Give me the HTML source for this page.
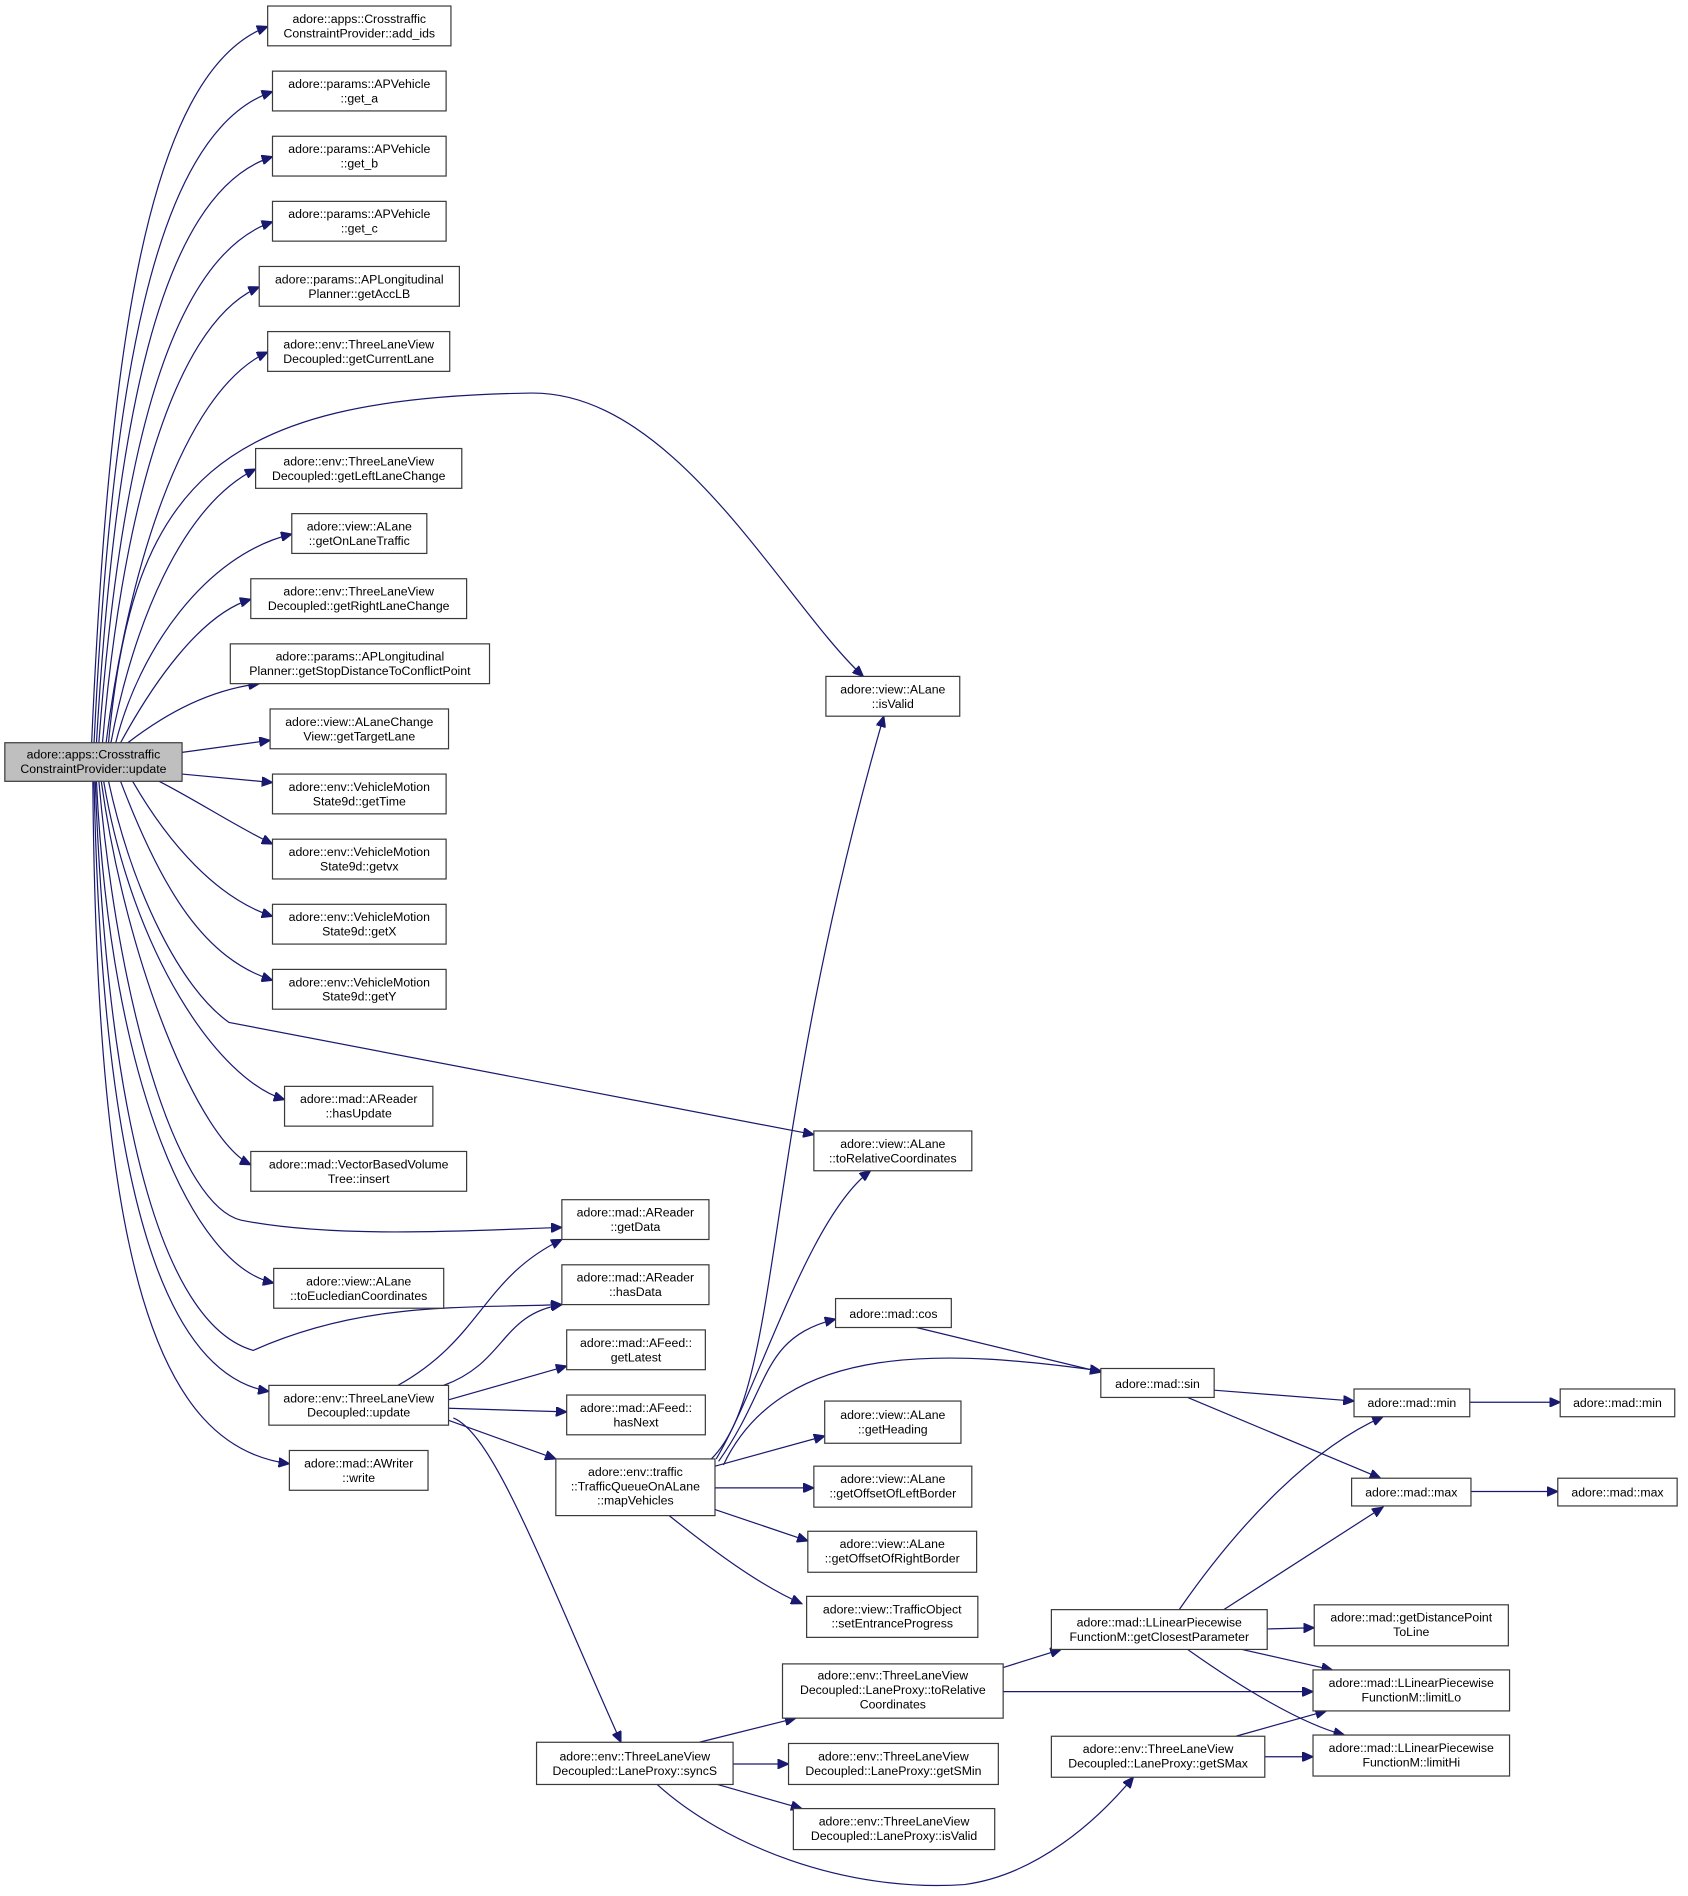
<!DOCTYPE html>
<html><head><meta charset="utf-8"><style>
html,body{margin:0;padding:0;background:#fff}
svg{display:block}
text{font-family:"Liberation Sans",Arial,sans-serif;font-size:10.2px;fill:#000}
.n{fill:#fff;stroke:#3a3a3a;stroke-width:1}
.e{fill:none;stroke:#191970;stroke-width:1}
</style></head><body>
<svg width="1688" height="1896" viewBox="0 0 1400 1572.5" preserveAspectRatio="none" xmlns="http://www.w3.org/2000/svg">
<defs><marker id="a" markerUnits="userSpaceOnUse" markerWidth="10" markerHeight="8" refX="9" refY="4" orient="auto"><path d="M0,0 L9,4 L0,8 Z" fill="#191970" stroke="#191970"/></marker></defs>
<g marker-end="url(#a)" class="e">
<path class="e" d="M76,616 C90,300 120,60 222,22"/>
<path class="e" d="M78,616 C92,330 125,110 226,76"/>
<path class="e" d="M80,616 C95,360 130,160 226,130"/>
<path class="e" d="M82,616 C98,400 135,215 226,184"/>
<path class="e" d="M85,616 C100,440 140,270 215,238"/>
<path class="e" d="M88,616 C105,480 150,325 222,292"/>
<path class="e" d="M90,616 C110,400 180,330 440,326 C560,324 650,500 716,561"/>
<path class="e" d="M92,616 C110,520 150,420 212,389"/>
<path class="e" d="M96,616 C115,540 170,460 242,443"/>
<path class="e" d="M100,616 C125,570 165,510 208,497"/>
<path class="e" d="M106,616 C140,590 175,572 215,567"/>
<path class="e" d="M151,624 L224,614"/>
<path class="e" d="M151,642 L226,649"/>
<path class="e" d="M132,648 C165,665 195,685 226,700"/>
<path class="e" d="M110,648 C140,700 180,745 226,760"/>
<path class="e" d="M100,648 C135,740 170,795 226,813"/>
<path class="e" d="M90,648 C110,740 150,820 190,848 L675,941"/>
<path class="e" d="M86,648 C110,790 180,895 236,912"/>
<path class="e" d="M84,648 C105,800 165,945 208,966"/>
<path class="e" d="M82,648 C100,850 150,1000 200,1012 C280,1028 400,1020 466,1018"/>
<path class="e" d="M80,648 C92,900 160,1050 227,1064"/>
<path class="e" d="M79,648 C90,950 140,1100 210,1120 C300,1080 380,1085 466,1082"/>
<path class="e" d="M78,648 C85,1000 140,1140 223,1154"/>
<path class="e" d="M77,648 C80,1050 130,1200 240,1214"/>
<path class="e" d="M330,1149 C400,1110 400,1060 466,1028"/>
<path class="e" d="M368,1149 C420,1130 415,1090 466,1082"/>
<path class="e" d="M372,1161 L470,1133"/>
<path class="e" d="M372,1168 L470,1171"/>
<path class="e" d="M372,1178 L461,1210"/>
<path class="e" d="M376,1176 C410,1190 450,1300 515,1445"/>
<path class="e" d="M590,1210 C650,1150 630,950 733,594"/>
<path class="e" d="M594,1210 C630,1150 670,1010 722,971"/>
<path class="e" d="M596,1212 C640,1150 630,1110 693,1094"/>
<path class="e" d="M600,1215 C650,1110 790,1120 913,1137"/>
<path class="e" d="M593,1216 L684,1191"/>
<path class="e" d="M593,1234 L675,1234"/>
<path class="e" d="M593,1252 L670,1278"/>
<path class="e" d="M555,1257 C590,1285 630,1315 665,1330"/>
<path class="e" d="M760,1101 L913,1138"/>
<path class="e" d="M1007,1153 L1123,1162"/>
<path class="e" d="M985,1159 L1145,1226"/>
<path class="e" d="M1219,1163 L1294,1163"/>
<path class="e" d="M1220,1237 L1292,1237"/>
<path class="e" d="M978,1335 C1030,1260 1090,1200 1147,1175"/>
<path class="e" d="M1015,1335 L1147,1250"/>
<path class="e" d="M1051,1351 L1090,1350"/>
<path class="e" d="M1030,1368 L1105,1385"/>
<path class="e" d="M985,1368 C1030,1400 1080,1430 1115,1439"/>
<path class="e" d="M832,1383 L880,1368"/>
<path class="e" d="M832,1403 L1089,1403"/>
<path class="e" d="M1025,1440 L1100,1419"/>
<path class="e" d="M1049,1457 L1089,1457"/>
<path class="e" d="M580,1445 L660,1425"/>
<path class="e" d="M608,1463 L654,1463"/>
<path class="e" d="M595,1480 L665,1500"/>
<path class="e" d="M545,1480 C600,1530 700,1570 800,1563 C860,1555 910,1510 940,1474"/>
</g>
<g text-anchor="middle">
<rect x="4" y="616" width="147" height="32" fill="#bfbfbf" stroke="#3a3a3a"/>
<text x="77.5" y="629">adore::apps::Crosstraffic</text><text x="77.5" y="641">ConstraintProvider::update</text>
<rect class="n" x="222" y="5" width="152" height="33"/><text x="298" y="19">adore::apps::Crosstraffic</text><text x="298" y="31">ConstraintProvider::add_ids</text>
<rect class="n" x="226" y="59" width="144" height="33"/><text x="298" y="73">adore::params::APVehicle</text><text x="298" y="85">::get_a</text>
<rect class="n" x="226" y="113" width="144" height="33"/><text x="298" y="127">adore::params::APVehicle</text><text x="298" y="139">::get_b</text>
<rect class="n" x="226" y="167" width="144" height="33"/><text x="298" y="181">adore::params::APVehicle</text><text x="298" y="193">::get_c</text>
<rect class="n" x="215" y="221" width="166" height="33"/><text x="298" y="235">adore::params::APLongitudinal</text><text x="298" y="247">Planner::getAccLB</text>
<rect class="n" x="222" y="275" width="151" height="33"/><text x="297.5" y="289">adore::env::ThreeLaneView</text><text x="297.5" y="301">Decoupled::getCurrentLane</text>
<rect class="n" x="212" y="372" width="171" height="33"/><text x="297.5" y="386">adore::env::ThreeLaneView</text><text x="297.5" y="398">Decoupled::getLeftLaneChange</text>
<rect class="n" x="242" y="426" width="112" height="33"/><text x="298" y="440">adore::view::ALane</text><text x="298" y="452">::getOnLaneTraffic</text>
<rect class="n" x="208" y="480" width="179" height="33"/><text x="297.5" y="494">adore::env::ThreeLaneView</text><text x="297.5" y="506">Decoupled::getRightLaneChange</text>
<rect class="n" x="191" y="534" width="215" height="33"/><text x="298.5" y="548">adore::params::APLongitudinal</text><text x="298.5" y="560">Planner::getStopDistanceToConflictPoint</text>
<rect class="n" x="224" y="588" width="148" height="33"/><text x="298" y="602">adore::view::ALaneChange</text><text x="298" y="614">View::getTargetLane</text>
<rect class="n" x="226" y="642" width="144" height="33"/><text x="298" y="656">adore::env::VehicleMotion</text><text x="298" y="668">State9d::getTime</text>
<rect class="n" x="226" y="696" width="144" height="33"/><text x="298" y="710">adore::env::VehicleMotion</text><text x="298" y="722">State9d::getvx</text>
<rect class="n" x="226" y="750" width="144" height="33"/><text x="298" y="764">adore::env::VehicleMotion</text><text x="298" y="776">State9d::getX</text>
<rect class="n" x="226" y="804" width="144" height="33"/><text x="298" y="818">adore::env::VehicleMotion</text><text x="298" y="830">State9d::getY</text>
<rect class="n" x="236" y="901" width="123" height="33"/><text x="297.5" y="915">adore::mad::AReader</text><text x="297.5" y="927">::hasUpdate</text>
<rect class="n" x="208" y="955" width="179" height="33"/><text x="297.5" y="969">adore::mad::VectorBasedVolume</text><text x="297.5" y="981">Tree::insert</text>
<rect class="n" x="227" y="1052" width="141" height="33"/><text x="297.5" y="1066">adore::view::ALane</text><text x="297.5" y="1078">::toEucledianCoordinates</text>
<rect class="n" x="223" y="1149" width="149" height="33"/><text x="297.5" y="1163">adore::env::ThreeLaneView</text><text x="297.5" y="1175">Decoupled::update</text>
<rect class="n" x="240" y="1203" width="115" height="33"/><text x="297.5" y="1217">adore::mad::AWriter</text><text x="297.5" y="1229">::write</text>
<rect class="n" x="685" y="561" width="111" height="33"/><text x="740.5" y="575">adore::view::ALane</text><text x="740.5" y="587">::isValid</text>
<rect class="n" x="675" y="938" width="131" height="33"/><text x="740.5" y="952">adore::view::ALane</text><text x="740.5" y="964">::toRelativeCoordinates</text>
<rect class="n" x="466" y="995" width="122" height="33"/><text x="527" y="1009">adore::mad::AReader</text><text x="527" y="1021">::getData</text>
<rect class="n" x="466" y="1049" width="122" height="33"/><text x="527" y="1063">adore::mad::AReader</text><text x="527" y="1075">::hasData</text>
<rect class="n" x="470" y="1103" width="115" height="33"/><text x="527.5" y="1117">adore::mad::AFeed::</text><text x="527.5" y="1129">getLatest</text>
<rect class="n" x="470" y="1157" width="115" height="33"/><text x="527.5" y="1171">adore::mad::AFeed::</text><text x="527.5" y="1183">hasNext</text>
<rect class="n" x="461" y="1210" width="132" height="47"/><text x="527" y="1224">adore::env::traffic</text><text x="527" y="1236">::TrafficQueueOnALane</text><text x="527" y="1248">::mapVehicles</text>
<rect class="n" x="693" y="1077" width="96" height="24"/><text x="741" y="1093">adore::mad::cos</text>
<rect class="n" x="913" y="1135" width="94" height="24"/><text x="960" y="1151">adore::mad::sin</text>
<rect class="n" x="684" y="1162" width="113" height="35"/><text x="740.5" y="1177">adore::view::ALane</text><text x="740.5" y="1189">::getHeading</text>
<rect class="n" x="675" y="1216" width="131" height="34"/><text x="740.5" y="1230">adore::view::ALane</text><text x="740.5" y="1242">::getOffsetOfLeftBorder</text>
<rect class="n" x="670" y="1270" width="140" height="34"/><text x="740" y="1284">adore::view::ALane</text><text x="740" y="1296">::getOffsetOfRightBorder</text>
<rect class="n" x="669" y="1324" width="142" height="34"/><text x="740" y="1338">adore::view::TrafficObject</text><text x="740" y="1350">::setEntranceProgress</text>
<rect class="n" x="1123" y="1152" width="96" height="23"/><text x="1171" y="1167">adore::mad::min</text>
<rect class="n" x="1294" y="1152" width="95" height="23"/><text x="1341.5" y="1167">adore::mad::min</text>
<rect class="n" x="1121" y="1226" width="99" height="23"/><text x="1170.5" y="1241">adore::mad::max</text>
<rect class="n" x="1292" y="1226" width="99" height="23"/><text x="1341.5" y="1241">adore::mad::max</text>
<rect class="n" x="872" y="1335" width="179" height="33"/><text x="961.5" y="1349">adore::mad::LLinearPiecewise</text><text x="961.5" y="1361">FunctionM::getClosestParameter</text>
<rect class="n" x="1090" y="1331" width="161" height="34"/><text x="1170.5" y="1345">adore::mad::getDistancePoint</text><text x="1170.5" y="1357">ToLine</text>
<rect class="n" x="1089" y="1385" width="163" height="34"/><text x="1170.5" y="1399">adore::mad::LLinearPiecewise</text><text x="1170.5" y="1411">FunctionM::limitLo</text>
<rect class="n" x="1089" y="1439" width="163" height="34"/><text x="1170.5" y="1453">adore::mad::LLinearPiecewise</text><text x="1170.5" y="1465">FunctionM::limitHi</text>
<rect class="n" x="649" y="1380" width="183" height="45"/><text x="740.5" y="1393">adore::env::ThreeLaneView</text><text x="740.5" y="1405">Decoupled::LaneProxy::toRelative</text><text x="740.5" y="1417">Coordinates</text>
<rect class="n" x="445" y="1445" width="163" height="35"/><text x="526.5" y="1460">adore::env::ThreeLaneView</text><text x="526.5" y="1472">Decoupled::LaneProxy::syncS</text>
<rect class="n" x="654" y="1446" width="174" height="34"/><text x="741" y="1460">adore::env::ThreeLaneView</text><text x="741" y="1472">Decoupled::LaneProxy::getSMin</text>
<rect class="n" x="658" y="1500" width="167" height="34"/><text x="741.5" y="1514">adore::env::ThreeLaneView</text><text x="741.5" y="1526">Decoupled::LaneProxy::isValid</text>
<rect class="n" x="872" y="1440" width="177" height="34"/><text x="960.5" y="1454">adore::env::ThreeLaneView</text><text x="960.5" y="1466">Decoupled::LaneProxy::getSMax</text>
</g>
</svg>
</body></html>
